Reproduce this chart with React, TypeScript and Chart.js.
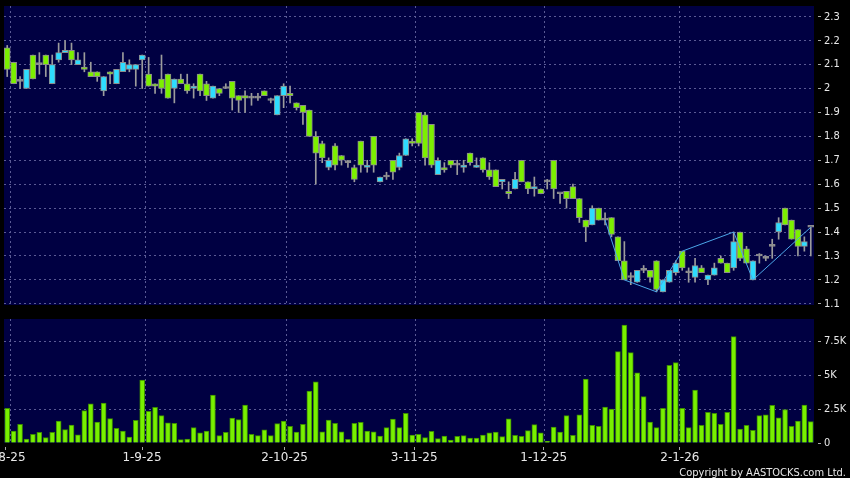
import React, { useEffect, useRef } from "react";
import { Chart, registerables } from "chart.js";

Chart.register(...registerables);

// ---------- data (one entry per trading day, Aug 2025 - Feb 2026) ----------
const opens = [
  2.17, 2.11, 2.03, 2.0, 2.14, 2.1, 2.14, 2.02, 2.12, 2.15,
  2.16, 2.1, 2.09, 2.07, 2.07, 1.99, 2.07, 2.02, 2.07, 2.08,
  2.08, 2.12, 2.06, 2.02, 2.04, 2.06, 2.0, 2.04, 2.02, 2.0,
  2.06, 2.02, 1.96, 2.0, 2.0, 2.03, 1.97, 1.97, 1.96, 1.96,
  1.99, 1.95, 1.89, 1.97, 1.98, 1.94, 1.93, 1.91, 1.8, 1.77,
  1.67, 1.76, 1.72, 1.69, 1.67, 1.78, 1.67, 1.8, 1.61, 1.63,
  1.7, 1.67, 1.72, 1.78, 1.9, 1.89, 1.85, 1.64, 1.67, 1.7,
  1.68, 1.67, 1.73, 1.67, 1.71, 1.66, 1.66, 1.61, 1.57, 1.58,
  1.7, 1.61, 1.58, 1.58, 1.61, 1.7, 1.56, 1.57, 1.59, 1.54,
  1.45, 1.43, 1.5, 1.45, 1.46, 1.38, 1.28, 1.21, 1.19, 1.24,
  1.24, 1.28, 1.15, 1.19, 1.23, 1.32, 1.23, 1.21, 1.25, 1.2,
  1.22, 1.29, 1.27, 1.25, 1.4, 1.33, 1.2, 1.3, 1.29, 1.34,
  1.4, 1.5, 1.45, 1.41, 1.34, 1.42,
];
const highs = [
  2.18, 2.11, 2.05, 2.08, 2.14, 2.15, 2.14, 2.14, 2.19, 2.2,
  2.19, 2.15, 2.15, 2.11, 2.07, 2.05, 2.07, 2.08, 2.15, 2.12,
  2.1, 2.14, 2.13, 2.02, 2.14, 2.06, 2.04, 2.06, 2.06, 2.02,
  2.06, 2.03, 2.01, 2.0, 2.02, 2.03, 1.97, 1.99, 1.98, 1.98,
  1.99, 1.96, 1.97, 2.02, 2.01, 1.94, 1.93, 1.91, 1.82, 1.78,
  1.71, 1.77, 1.72, 1.7, 1.68, 1.78, 1.7, 1.8, 1.63, 1.65,
  1.7, 1.73, 1.79, 1.79, 1.9, 1.9, 1.85, 1.71, 1.69, 1.7,
  1.7, 1.7, 1.73, 1.71, 1.71, 1.69, 1.66, 1.62, 1.61, 1.65,
  1.7, 1.61, 1.63, 1.58, 1.62, 1.7, 1.56, 1.57, 1.6, 1.54,
  1.45, 1.51, 1.5, 1.48, 1.46, 1.38, 1.36, 1.23, 1.24, 1.26,
  1.24, 1.28, 1.2, 1.24, 1.28, 1.32, 1.25, 1.29, 1.26, 1.22,
  1.27, 1.3, 1.27, 1.4, 1.4, 1.34, 1.28, 1.31, 1.3, 1.37,
  1.46, 1.5, 1.45, 1.41, 1.38, 1.42,
];
const lows = [
  2.05, 2.02, 2.0, 2.0, 2.04, 2.06, 2.05, 2.02, 2.11, 2.15,
  2.1, 2.1, 2.07, 2.05, 2.03, 1.97, 2.02, 2.02, 2.07, 2.07,
  2.01, 2.0, 2.01, 1.98, 1.98, 1.96, 1.94, 2.02, 1.98, 1.96,
  1.97, 1.95, 1.96, 1.97, 2.0, 1.91, 1.9, 1.9, 1.93, 1.95,
  1.97, 1.94, 1.89, 1.92, 1.94, 1.91, 1.85, 1.8, 1.6, 1.69,
  1.66, 1.66, 1.68, 1.67, 1.61, 1.65, 1.65, 1.65, 1.61, 1.62,
  1.62, 1.66, 1.72, 1.76, 1.76, 1.68, 1.67, 1.64, 1.65, 1.67,
  1.64, 1.65, 1.68, 1.67, 1.65, 1.62, 1.59, 1.58, 1.54, 1.58,
  1.61, 1.56, 1.55, 1.56, 1.58, 1.54, 1.52, 1.5, 1.54, 1.44,
  1.36, 1.43, 1.45, 1.43, 1.38, 1.28, 1.2, 1.18, 1.19, 1.23,
  1.19, 1.15, 1.15, 1.19, 1.22, 1.24, 1.19, 1.19, 1.23, 1.18,
  1.22, 1.27, 1.23, 1.24, 1.28, 1.27, 1.2, 1.27, 1.28, 1.29,
  1.37, 1.43, 1.37, 1.3, 1.32, 1.3,
];
const closes = [
  2.08, 2.02, 2.03, 2.08, 2.04, 2.1, 2.1, 2.1, 2.15, 2.16,
  2.12, 2.12, 2.08, 2.05, 2.05, 2.05, 2.06, 2.08, 2.11, 2.1,
  2.1, 2.14, 2.01, 2.01, 2.0, 1.96, 2.04, 2.02, 1.99, 2.01,
  1.99, 1.97, 2.01, 1.98, 2.0, 1.96, 1.95, 1.96, 1.96, 1.96,
  1.97, 1.95, 1.97, 2.01, 1.97, 1.92, 1.9, 1.8, 1.73, 1.71,
  1.7, 1.68, 1.7, 1.69, 1.62, 1.68, 1.68, 1.68, 1.63, 1.63,
  1.65, 1.72, 1.79, 1.77, 1.77, 1.71, 1.68, 1.7, 1.66, 1.68,
  1.68, 1.68, 1.69, 1.68, 1.66, 1.63, 1.59, 1.62, 1.56, 1.62,
  1.61, 1.58, 1.59, 1.56, 1.61, 1.58, 1.56, 1.54, 1.54, 1.46,
  1.42, 1.5, 1.45, 1.45, 1.39, 1.28, 1.2, 1.21, 1.24, 1.24,
  1.21, 1.16, 1.2, 1.24, 1.27, 1.25, 1.23, 1.26, 1.23, 1.22,
  1.25, 1.27, 1.23, 1.36, 1.29, 1.27, 1.28, 1.3, 1.29, 1.34,
  1.44, 1.43, 1.37, 1.34, 1.36, 1.42,
];
// volume in thousands
const volumes = [
  2.55, 0.88, 1.37, 0.29, 0.64, 0.79, 0.4, 0.79, 1.62, 0.98,
  1.32, 0.61, 2.38, 2.89, 1.54, 2.94, 1.79, 1.08, 0.88, 0.44,
  1.67, 4.63, 2.33, 2.62, 2.01, 1.49, 1.45, 0.25, 0.29, 1.13,
  0.75, 0.87, 3.53, 0.54, 0.78, 1.84, 1.72, 2.79, 0.64, 0.54,
  0.96, 0.54, 1.42, 1.62, 1.23, 0.81, 1.37, 3.82, 4.49, 0.83,
  1.69, 1.45, 0.83, 0.27, 1.45, 1.52, 0.88, 0.83, 0.51, 1.13,
  1.76, 1.13, 2.18, 0.59, 0.64, 0.39, 0.86, 0.32, 0.51, 0.22,
  0.49, 0.54, 0.37, 0.37, 0.59, 0.74, 0.81, 0.47, 1.77, 0.56,
  0.49, 0.91, 1.35, 0.74, 0.12, 1.18, 0.81, 2.01, 0.56, 2.08,
  4.71, 1.3, 1.23, 2.65, 2.5, 6.72, 8.68, 6.65, 5.17, 3.41,
  1.54, 1.13, 2.55, 5.71, 5.91, 2.55, 1.13, 3.9, 1.3, 2.25,
  2.18, 1.37, 2.25, 7.82, 1.03, 1.3, 0.93, 2.01, 2.08, 2.77,
  1.86, 2.45, 1.23, 1.62, 2.79, 1.57,
];
const zigzagIdx = [93, 96, 101, 105, 113, 116, 125];
const zigzagVal = [1.45, 1.2, 1.15, 1.32, 1.4, 1.2, 1.42];

const dateLabels = ["1-8-25", "1-9-25", "2-10-25", "3-11-25", "1-12-25", "2-1-26"];
const dateLabelIdx = [0, 21, 43, 63, 83, 104];
const priceTicks = [1.1, 1.2, 1.3, 1.4, 1.5, 1.6, 1.7, 1.8, 1.9, 2.0, 2.1, 2.2, 2.3];
const volumeTicks = [0, 2.5, 5, 7.5];

// ---------- styling ----------
const N = opens.length;
const NAVY = "#000042";
const GRID = "#5a5a94";
const TICKC = "#a8a8a8";
const TEXT = "#e8e8e8";
const GREEN = "#7cf000";
const CYAN = "#2edcff";
const DOJI = "#9a9a9a";
const YFONT = { family: "'DejaVu Sans Condensed', 'DejaVu Sans', sans-serif", size: 11 };
const XFONT = { family: "'DejaVu Sans', sans-serif", size: 12 };

const plotBg = {
  id: "plotBg",
  beforeDraw(chart: any) {
    const { ctx, chartArea: a } = chart;
    ctx.save();
    ctx.fillStyle = NAVY;
    ctx.fillRect(a.left, a.top, a.right - a.left, a.bottom - a.top);
    ctx.restore();
  },
};

const copyright = {
  id: "copyright",
  afterDraw(chart: any) {
    const ctx = chart.ctx;
    ctx.save();
    ctx.font = "11px 'DejaVu Sans Condensed', 'DejaVu Sans', sans-serif";
    ctx.fillStyle = TEXT;
    ctx.textAlign = "right";
    ctx.textBaseline = "alphabetic";
    ctx.fillText("Copyright by AASTOCKS.com Ltd.", 846, 166);
    ctx.restore();
  },
};

const setTicks = (values: number[]) => (scale: any) => {
  scale.ticks = values.map((v) => ({ value: v }));
};
const fixHeight = (h: number) => (scale: any) => {
  scale.height = h;
  scale.paddingLeft = 0;
  scale.paddingRight = 0;
};
const fixWidth = (w: number) => (scale: any) => {
  scale.width = w;
  scale.paddingTop = 0;
  scale.paddingBottom = 0;
};

const gridX = () => ({
  type: "linear",
  position: "bottom",
  min: -0.5,
  max: N - 0.5,
  bounds: "data",
  offset: false,
  weight: 0,
  afterBuildTicks: setTicks(dateLabelIdx.map((i) => i + 0.5)),
  ticks: { display: false },
  grid: { color: GRID, drawTicks: false, lineWidth: 1, offset: false },
  border: { display: false, dash: [2, 3] },
  afterFit: fixHeight(0),
});

const yAxis = (min: number, max: number, ticks: number[], fmt: (v: number) => string, hideZero: boolean) => ({
  type: "linear",
  position: "right",
  min,
  max,
  bounds: "data",
  afterBuildTicks: setTicks(ticks),
  ticks: { callback: (v: any) => fmt(Number(v)), color: TEXT, font: YFONT, padding: 3 },
  grid: {
    color: (c: any) => (hideZero && c.tick && c.tick.value === 0 ? "rgba(0,0,0,0)" : GRID),
    tickColor: TICKC,
    tickLength: 7,
    tickBorderDash: [0, 4, 3, 50],
  },
  border: { display: false, dash: [2, 3] },
  afterFit: fixWidth(36),
});

function priceConfig(): any {
  const idx = opens.map((_, i) => i);
  return {
    type: "bar",
    data: {
      datasets: [
        {
          type: "line",
          data: zigzagIdx.map((x, k) => ({ x, y: zigzagVal[k] })),
          borderColor: "#4ba6e8",
          borderWidth: 1,
          pointRadius: 0,
          tension: 0,
          order: 0,
          xAxisID: "x",
          yAxisID: "y",
        },
        {
          data: idx.map((i) => ({ x: i, y: [Math.min(opens[i], closes[i]), Math.max(opens[i], closes[i])] })),
          backgroundColor: idx.map((i) => (closes[i] > opens[i] ? CYAN : closes[i] < opens[i] ? GREEN : DOJI)),
          borderColor: "#8c8c8c",
          borderWidth: 1,
          borderSkipped: false,
          barThickness: 6,
          minBarLength: 2,
          grouped: false,
          order: 1,
          xAxisID: "x",
          yAxisID: "y",
        },
        {
          data: idx.map((i) => ({ x: i, y: [lows[i], highs[i]] })),
          backgroundColor: "#9c9c9c",
          borderWidth: 0,
          barThickness: 1,
          minBarLength: 1,
          grouped: false,
          order: 2,
          xAxisID: "x",
          yAxisID: "y",
        },
      ],
    },
    options: {
      responsive: false,
      maintainAspectRatio: false,
      animation: false,
      devicePixelRatio: 1,
      events: [],
      layout: { padding: { left: 4, top: 6, right: 0, bottom: 5 } },
      plugins: { legend: { display: false }, tooltip: { enabled: false } },
      scales: {
        x: gridX(),
        y: yAxis(1.095, 2.345, priceTicks, (v) => {
          const s = v.toFixed(1);
          return s.endsWith(".0") ? s.slice(0, -2) : s;
        }, false),
      },
    },
    plugins: [plotBg],
  };
}

function volumeConfig(): any {
  const idx = volumes.map((_, i) => i);
  return {
    type: "bar",
    data: {
      datasets: [
        {
          data: idx.map((i) => ({ x: i, y: volumes[i] })),
          backgroundColor: "#78f000",
          borderColor: "#3c8c00",
          borderWidth: 1,
          barThickness: 5,
          grouped: false,
          xAxisID: "x",
          yAxisID: "y",
        },
      ],
    },
    options: {
      responsive: false,
      maintainAspectRatio: false,
      animation: false,
      devicePixelRatio: 1,
      events: [],
      layout: { padding: { left: 4, top: 9, right: 0, bottom: 0 } },
      plugins: { legend: { display: false }, tooltip: { enabled: false } },
      scales: {
        x: gridX(),
        xl: {
          type: "linear",
          position: "bottom",
          axis: "x",
          min: -0.5,
          max: N - 0.5,
          bounds: "data",
          offset: false,
          weight: 1,
          afterBuildTicks: setTicks(dateLabelIdx.map((i) => (i * N) / (N - 1) - 0.2)),
          ticks: {
            callback: (_v: any, k: number) => dateLabels[k],
            color: TEXT,
            font: XFONT,
            maxRotation: 0,
            autoSkip: false,
            padding: 1,
          },
          grid: {
            drawOnChartArea: false,
            drawTicks: true,
            offset: false,
            tickLength: 7,
            tickColor: TICKC,
            tickBorderDash: [0, 4, 3, 50],
          },
          border: { display: false },
          afterFit: fixHeight(35),
        },
        y: yAxis(0, 9.12, volumeTicks, (v) => (v === 0 ? "0" : v + "K"), true),
      },
    },
    plugins: [plotBg, copyright],
  };
}

export default function App() {
  const priceRef = useRef<HTMLCanvasElement>(null);
  const volRef = useRef<HTMLCanvasElement>(null);

  useEffect(() => {
    const pc = new Chart(priceRef.current as HTMLCanvasElement, priceConfig());
    const vc = new Chart(volRef.current as HTMLCanvasElement, volumeConfig());
    return () => {
      pc.destroy();
      vc.destroy();
    };
  }, []);

  return (
    <div
      style={{
        position: "absolute",
        left: 0,
        top: 0,
        width: 850,
        height: 478,
        background: "#000",
        overflow: "hidden",
      }}
    >
      <canvas ref={priceRef} width={850} height={310} style={{ position: "absolute", left: 0, top: 0, display: "block" }} />
      <canvas ref={volRef} width={850} height={168} style={{ position: "absolute", left: 0, top: 310, display: "block" }} />
    </div>
  );
}
